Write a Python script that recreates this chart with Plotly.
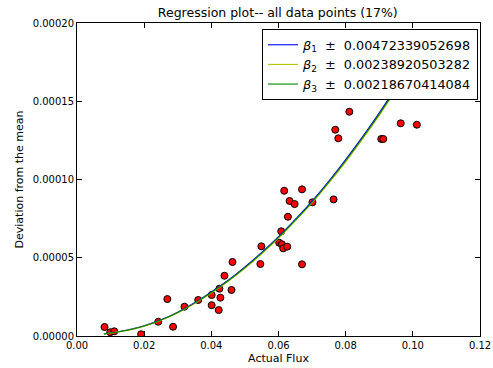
import plotly.graph_objects as go

# scatter data (Actual Flux, Deviation from the mean)
flux = [0.0082, 0.0099, 0.0111, 0.0191, 0.0242, 0.0269, 0.0286, 0.0320, 0.0361,
        0.0401, 0.0401, 0.0422, 0.0424, 0.0427, 0.0439, 0.0460, 0.0463, 0.0546,
        0.0549, 0.0602, 0.0608, 0.0610, 0.0614, 0.0626, 0.0628, 0.0633, 0.0617,
        0.0648, 0.0670, 0.0670, 0.0701, 0.0764, 0.0769, 0.0778, 0.0811, 0.0906,
        0.0912, 0.0964, 0.1012]
deviation = [5.75e-6, 2.4e-6, 3.0e-6, 1.1e-6, 9.1e-6, 2.36e-5, 5.9e-6, 1.87e-5, 2.30e-5,
             2.62e-5, 1.97e-5, 1.66e-5, 3.02e-5, 2.45e-5, 3.85e-5, 2.94e-5, 4.73e-5, 4.60e-5,
             5.73e-5, 5.96e-5, 6.69e-5, 5.86e-5, 5.60e-5, 5.71e-5, 7.62e-5, 8.63e-5, 9.28e-5,
             8.43e-5, 9.37e-5, 4.58e-5, 8.54e-5, 8.73e-5, 1.318e-4, 1.263e-4, 1.433e-4, 1.259e-4,
             1.259e-4, 1.359e-4, 1.350e-4]

# fitted curves
curve_x = [0.008, 0.015, 0.02, 0.025, 0.03, 0.035, 0.04, 0.045, 0.05, 0.055,
           0.06, 0.065, 0.07, 0.075, 0.08, 0.085, 0.09, 0.095, 0.1, 0.1012]
curve_b1 = [1.35e-6, 3.8e-6, 6.5e-6, 1.03e-5, 1.52e-5, 2.12e-5, 2.81e-5, 3.56e-5, 4.41e-5, 5.34e-5,
            6.35e-5, 7.45e-5, 8.62e-5, 9.90e-5, 1.127e-4, 1.272e-4, 1.426e-4, 1.588e-4, 1.759e-4, 1.801e-4]
curve_b2 = [1.25e-6, 3.6e-6, 6.3e-6, 1.01e-5, 1.48e-5, 2.08e-5, 2.75e-5, 3.50e-5, 4.33e-5, 5.25e-5,
            6.25e-5, 7.35e-5, 8.50e-5, 9.78e-5, 1.113e-4, 1.258e-4, 1.410e-4, 1.572e-4, 1.741e-4, 1.783e-4]
curve_b3 = [1.3e-6, 3.7e-6, 6.4e-6, 1.02e-5, 1.50e-5, 2.10e-5, 2.78e-5, 3.53e-5, 4.37e-5, 5.30e-5,
            6.30e-5, 7.40e-5, 8.56e-5, 9.84e-5, 1.120e-4, 1.265e-4, 1.418e-4, 1.580e-4, 1.750e-4, 1.792e-4]

labels = ["<i>β</i><sub>1</sub>  ±  0.00472339052698",
          "<i>β</i><sub>2</sub>  ±  0.00238920503282",
          "<i>β</i><sub>3</sub>  ±  0.00218670414084"]

x_ticks = [0.00, 0.02, 0.04, 0.06, 0.08, 0.10, 0.12]
y_ticks = [0.0, 0.00005, 0.00010, 0.00015, 0.00020]

fig = go.Figure()
fig.add_trace(go.Scatter(x=flux, y=deviation, mode="markers", showlegend=False,
                         marker=dict(color="red", size=7, line=dict(color="black", width=1))))
for ys, col, lab in [(curve_b1, "rgb(0,0,255)", labels[0]),
                     (curve_b2, "rgb(191,191,0)", labels[1]),
                     (curve_b3, "rgb(0,128,0)", labels[2])]:
    fig.add_trace(go.Scatter(x=curve_x, y=ys, mode="lines", name=lab,
                             line=dict(color=col, width=1.1, shape="spline", smoothing=0.6)))

axis_common = dict(showline=True, linecolor="black", linewidth=1, mirror="ticks",
                   ticks="inside", ticklen=5, tickcolor="black", showgrid=False,
                   zeroline=False, automargin=False,
                   tickfont=dict(family="DejaVu Sans", size=10, color="black"))

fig.update_layout(
    width=493, height=368,
    margin=dict(l=77, r=13, t=23, b=32),
    paper_bgcolor="white", plot_bgcolor="white",
    title=dict(text="Regression plot-- all data points (17%)", x=0.5635, xanchor="center",
               y=0.955, yanchor="bottom",
               font=dict(family="DejaVu Sans", size=12.5, color="black")),
    xaxis=dict(range=[0, 0.12], tickvals=x_ticks, tickformat=".2f",
               title=dict(text="Actual Flux", standoff=4,
                          font=dict(family="DejaVu Sans", size=11, color="black")),
               **axis_common),
    yaxis=dict(range=[0, 0.0002], tickvals=y_ticks, tickformat=".5f",
               title=dict(text="Deviation from the mean", standoff=6,
                          font=dict(family="DejaVu Sans", size=11, color="black")),
               **axis_common),
    legend=dict(x=0.995, xanchor="right", y=0.981, yanchor="top",
                bgcolor="white", bordercolor="black", borderwidth=1,
                font=dict(family="DejaVu Sans", size=12.8, color="black"),
                tracegroupgap=0, itemwidth=30),
)

fig.write_html("out.html")
